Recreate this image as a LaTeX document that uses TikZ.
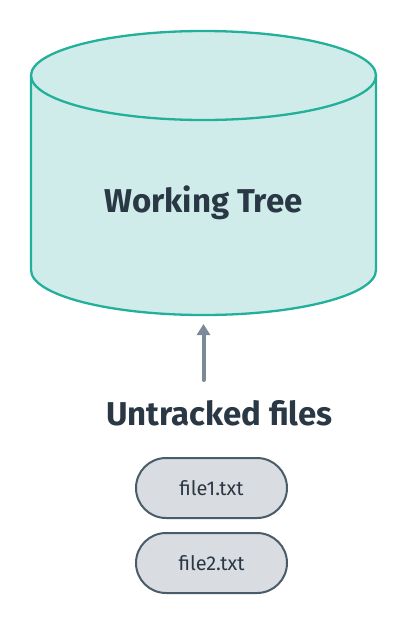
\documentclass[tikz,border=0pt]{standalone}
\usepackage{fontspec}
\setmainfont{Fira Sans}
\usetikzlibrary{arrows.meta}
\definecolor{teal1}{HTML}{22B09B}
\definecolor{tealfill}{HTML}{CFECEA}
\definecolor{darktext}{HTML}{2A3845}
\definecolor{arrowgray}{HTML}{7A8A99}
\definecolor{pillfill}{HTML}{D9DDE1}
\definecolor{pillstroke}{HTML}{4A5B69}
\begin{document}
\begin{tikzpicture}[x=1pt,y=1pt,
  pill/.style={draw=pillstroke, fill=pillfill, line width=2pt, rounded corners=30pt,
    minimum width=151pt, minimum height=60pt, font=\fontsize{20}{22}\selectfont, text=darktext},
  bigtitle/.style={font=\fontsize{33}{36}\selectfont\bfseries, text=darktext}]
\useasboundingbox (0,0) rectangle (407,-625);
% cylinder body
\fill[tealfill] (31,-75.5) -- (31,-270) arc[start angle=180, end angle=360, x radius=172.5pt, y radius=45pt] -- (376,-75.5) arc[start angle=0, end angle=180, x radius=172.5pt, y radius=44.5pt] -- cycle;
\draw[teal1, line width=2.3pt] (31,-75.5) -- (31,-270) arc[start angle=180, end angle=360, x radius=172.5pt, y radius=45pt] -- (376,-75.5);
\draw[teal1, line width=2.3pt] (203.5,-75.5) ellipse[x radius=172.5pt, y radius=44.5pt];
\node[bigtitle] (wt) at (203.5,-203) {Working Tree};
\coordinate (cylbottom) at (203.5,-324);
\node[bigtitle] (untracked) at (219.5,-413) {Untracked files};
\node[pill] (f1) at (211.5,-488) {file1.txt};
\node[pill] (f2) at (211.5,-563) {file2.txt};
\draw[arrowgray, line width=4pt, line cap=round, -{Triangle[width=13pt,length=11pt]}] (203.5,-380) -- (cylbottom);
\end{tikzpicture}
\end{document}
